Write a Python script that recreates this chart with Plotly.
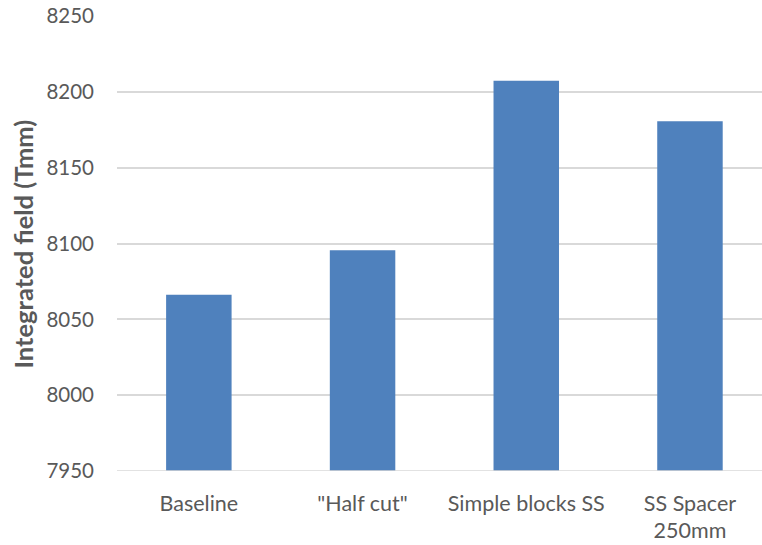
import plotly.graph_objects as go

# Integrated field per configuration
categories = ["Baseline", "\"Half cut\"", "Simple blocks SS", "SS Spacer<br>250mm"]
field_tmm = [8066.2, 8095.6, 8207.3, 8180.6]
y_ticks = [7950, 8000, 8050, 8100, 8150, 8200, 8250]

text_color = "#595959"
font_family = "Lato, 'Open Sans', sans-serif"

fig = go.Figure(
    go.Bar(
        x=list(range(len(categories))),
        y=field_tmm,
        width=0.40,
        marker=dict(color="#4F81BD", line=dict(width=0)),
    )
)

fig.update_layout(
    width=762,
    height=545,
    margin=dict(l=117, r=0, t=16, b=74),
    paper_bgcolor="white",
    plot_bgcolor="white",
    showlegend=False,
    font=dict(family=font_family, size=20, color=text_color),
)

fig.update_xaxes(
    range=[-0.5, 3.44],
    tickmode="array",
    tickvals=list(range(len(categories))),
    ticktext=categories,
    showgrid=False,
    zeroline=False,
    showline=False,
    ticks="",
    ticklabelstandoff=17,
    tickfont=dict(size=21.5, color=text_color),
)

fig.update_yaxes(
    range=[7950, 8250],
    tickmode="array",
    tickvals=y_ticks,
    showgrid=True,
    gridcolor="#D9D9D9",
    gridwidth=1.5,
    zeroline=False,
    showline=False,
    ticks="",
    ticklabelstandoff=22,
    tickfont=dict(size=20.5, color=text_color),
)

# Bottom baseline of the plot area
fig.add_shape(type="line", xref="paper", yref="y", x0=0, x1=1, y0=7950, y1=7950,
              line=dict(color="#D9D9D9", width=1.5))

fig.add_annotation(
    text="<b>Integrated field (Tmm)</b>",
    xref="paper", yref="paper",
    x=(22 - 117) / 645, y=0.5,
    xanchor="center", yanchor="middle",
    textangle=-90,
    showarrow=False,
    font=dict(family=font_family, size=25.5, color=text_color),
)

fig.write_html("out.html")
